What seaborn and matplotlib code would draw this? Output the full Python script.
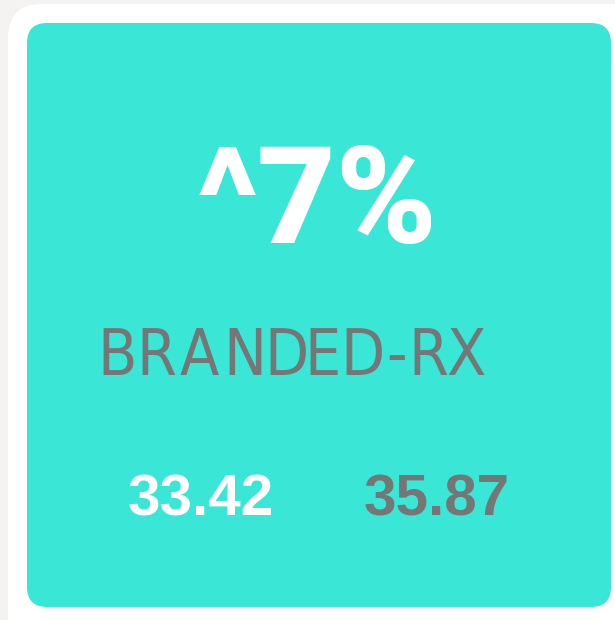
import matplotlib
matplotlib.use("Agg")
import matplotlib.pyplot as plt
from matplotlib.patches import FancyBboxPatch
import seaborn as sns

# ---------------- data ----------------
metric_name = "BRANDED-RX"
change_label = "^7%"
kpi_values = [33.42, 35.87]
kpi_colors = ["#ffffff", "#767676"]

# ---------------- style ----------------
sns.set_style("white")
plt.rcParams["font.family"] = ["Liberation Sans", "DejaVu Sans"]

bg = "#f4f3f1"
teal = "#3ae6d6"
grey = "#767676"

fig = plt.figure(figsize=(6.15, 6.2), dpi=100, facecolor=bg)
ax = fig.add_axes([0, 0, 1, 1])
ax.set_xlim(0, 615)
ax.set_ylim(620, 0)
ax.set_facecolor(bg)
ax.axis("off")

# white outer card and teal inner card
ax.add_patch(FancyBboxPatch((8, 4), 640, 650, boxstyle="round,pad=0,rounding_size=34",
                            fc="white", ec="none"))
ax.add_patch(FancyBboxPatch((27, 23), 584, 584, boxstyle="round,pad=0,rounding_size=20",
                            fc=teal, ec="none"))

# big change figure
ax.text(317, 243, change_label, ha="center", va="baseline", color="white",
        fontsize=98, fontweight=900, family=["Roboto", "DejaVu Sans"])

# spaced-out metric name, one letter at a time
letter_x = [117, 156, 199, 245, 286, 323, 362, 397, 428, 466]
for ch, x in zip(metric_name, letter_x):
    ax.text(x, 375, ch, ha="center", va="baseline", color=grey, fontsize=46,
            fontstretch="condensed", family=["DejaVu Sans"])

# the two values
for val, x, c in zip(kpi_values, [201, 437], kpi_colors):
    ax.text(x, 516, f"{val:.2f}", ha="center", va="baseline", color=c,
            fontsize=42, fontweight="bold")

fig.savefig("out.png", dpi=100, facecolor=bg)
